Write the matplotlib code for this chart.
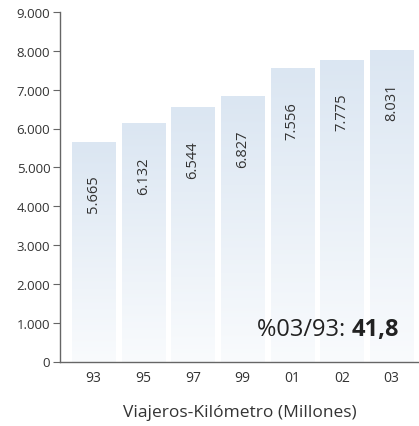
import numpy as np
import matplotlib
matplotlib.use("Agg")
import matplotlib.pyplot as plt
from matplotlib.colors import LinearSegmentedColormap

years = ["93", "95", "97", "99", "01", "02", "03"]
values = [5665, 6132, 6544, 6827, 7556, 7775, 8031]
value_labels = ["5.665", "6.132", "6.544", "6.827", "7.556", "7.775", "8.031"]
yticks = [0, 1000, 2000, 3000, 4000, 5000, 6000, 7000, 8000, 9000]
ytick_labels = ["0", "1.000", "2.000", "3.000", "4.000", "5.000",
                "6.000", "7.000", "8.000", "9.000"]
growth_label = "41,8"

plt.rcParams["font.family"] = ["Open Sans", "DejaVu Sans"]
TXT = "#333333"
AX = "#666666"

fig = plt.figure(figsize=(4.19, 4.27), dpi=100)
ax = fig.add_axes([60 / 419, (427 - 362.5) / 427, 359 / 419, 349.5 / 427])

x = np.arange(len(values))
width = 0.866
grad = LinearSegmentedColormap.from_list("bar", ["#f9fbfd", "#dbe6f2"])
bars = ax.bar(x, values, width=width, color="none", edgecolor="none")
for b in bars:
    x0, y0 = b.get_x(), b.get_y()
    w, h = b.get_width(), b.get_height()
    im = ax.imshow(np.linspace(0, 1, 256).reshape(-1, 1), cmap=grad, origin="lower",
                   extent=[x0, x0 + w, y0, y0 + h], aspect="auto", zorder=1)
    im.set_clip_path(b)

for xi, v, lab in zip(x, values, value_labels):
    ax.annotate(lab, (xi, v), xytext=(0, -52), textcoords="offset pixels",
                rotation=90, ha="center", va="center", fontsize=10.5, color=TXT)

ax.set_xlim(-0.674, 6.55)
ax.set_ylim(0, 9000)
ax.set_xticks(x, years)
ax.set_yticks(yticks, ytick_labels)
ax.tick_params(axis="x", length=0, pad=6, labelsize=10, colors=TXT)
ax.tick_params(axis="y", length=5, width=0.8, color=AX, pad=2, labelsize=9.5, labelcolor=TXT)
for s in ["top", "right"]:
    ax.spines[s].set_visible(False)
for s in ["left", "bottom"]:
    ax.spines[s].set_color(AX)
    ax.spines[s].set_linewidth(1)

ax.set_xlabel("Viajeros-Kilómetro (Millones)", fontsize=12.5, color=TXT, labelpad=14)

# growth note: bold value right-aligned, prefix placed to its left
xr, yc = 399 / 419, (427 - 330) / 427
t_bold = fig.text(xr, yc, growth_label, ha="right", va="center",
                  fontsize=17, fontweight="bold", color="#222222")
fig.canvas.draw()
bb = t_bold.get_window_extent()
fig.text(bb.x0 / fig.bbox.width, yc, "%03/93: ", ha="right", va="center",
         fontsize=17, color="#222222")

fig.savefig("out.png", dpi=100)
